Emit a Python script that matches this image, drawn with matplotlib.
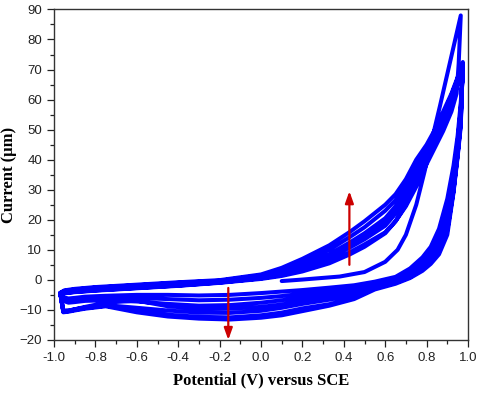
import numpy as np
import matplotlib
matplotlib.use('Agg')
import matplotlib.pyplot as plt
from matplotlib.ticker import MultipleLocator, FormatStrFormatter

# first anodic sweep, starting at 0.1 V
start_x = [0.1, 0.2, 0.38, 0.5, 0.6, 0.66, 0.7, 0.75, 0.79, 0.82, 0.865, 0.965]
start_y = [-0.4, 0.1, 1.1, 2.6, 6.0, 10.0, 15.0, 25, 36, 45, 58, 88]

# first reverse sweep from the 88 peak
rev1_x = [0.965, 0.955, 0.945, 0.92, 0.88, 0.84, 0.8, 0.75, 0.7, 0.65, 0.6, 0.5,
          0.43, 0.33, 0.2, 0.1, 0.0, -0.2, -0.4, -0.6, -0.8, -0.9, -0.95, -0.97]
rev1_y = [88, 72, 62, 56, 49.5, 44, 38.5, 31, 24.5, 19.5, 15.8, 11.8,
          9.2, 6.0, 3.2, 1.6, 0.5, -0.9, -1.9, -2.7, -3.5, -4.0, -4.4, -5.0]

# reverse sweeps (0.975 -> -0.97), cycles 2..7
rev_x = [0.975, 0.95, 0.92, 0.88, 0.84, 0.8, 0.75, 0.7, 0.65, 0.6, 0.5, 0.43,
         0.33, 0.2, 0.1, 0.0, -0.2, -0.4, -0.6, -0.8, -0.9, -0.95, -0.97]
rev_c2 = [70, 65, 59, 52, 46, 40, 32, 25, 19.5, 15.5, 11, 8.5,
          5.5, 2.8, 1.3, 0.3, -1.0, -2.0, -2.8, -3.6, -4.1, -4.5, -5.0]
rev_c3 = [70.5, 65.5, 60, 53, 47, 41.5, 34, 27.5, 22, 18, 13.5, 10.8,
          7.2, 4.0, 2.2, 0.9, -0.7, -1.6, -2.4, -3.2, -3.8, -4.2, -4.8]
rev_c4 = [71, 66, 60.5, 53.5, 47.5, 42, 35, 28.5, 23.5, 19.5, 14.5, 11.8,
          8.0, 4.6, 2.6, 1.1, -0.6, -1.4, -2.2, -3.0, -3.6, -4.1, -4.7]
rev_c5 = [71.2, 66.5, 61, 54, 48, 42.5, 36, 29.5, 24.5, 20.5, 15.5, 12.5,
          8.5, 5.0, 2.8, 1.2, -0.5, -1.3, -2.1, -2.9, -3.5, -4.0, -4.6]
rev_c6 = [71.5, 67, 61.5, 55, 49, 44, 38, 31.5, 26.5, 23, 17.5, 14.3,
          10.0, 6.0, 3.4, 1.5, -0.3, -1.0, -1.8, -2.6, -3.2, -3.7, -4.4]
rev_c7 = [72, 67.5, 62, 56, 50, 45, 40, 33.5, 28.5, 25, 19.5, 16,
          11.5, 7.0, 4.0, 1.8, -0.1, -0.8, -1.6, -2.4, -3.0, -3.5, -4.3]

# forward sweeps (-0.97 -> 0.975), cycles 1..7
fwd_x = [-0.97, -0.955, -0.93, -0.9, -0.85, -0.75, -0.6, -0.45, -0.3, -0.15, 0.0, 0.1, 0.2,
         0.33, 0.45, 0.55, 0.65, 0.72, 0.78, 0.82, 0.86, 0.9, 0.93, 0.95, 0.965, 0.975]
fwd_c1 = [-5.0, -5.8, -6.2, -6.0, -5.6, -5.3, -5.0, -5.0, -5.2, -5.0, -4.4, -3.9, -3.4,
          -2.6, -1.8, -0.6, 1.0, 3.8, 7.5, 11, 17, 27, 38, 48, 59, 70]
fwd_c2 = [-4.8, -6.3, -6.8, -6.6, -6.2, -6.0, -6.0, -6.4, -6.8, -6.6, -6.0, -5.4, -4.6,
          -3.6, -2.6, -1.2, 0.6, 3.2, 6.6, 9.8, 15, 24.5, 35.5, 46, 57, 70.5]
fwd_c3 = [-4.6, -7.0, -7.6, -7.4, -7.0, -6.8, -7.2, -8.0, -8.6, -8.4, -7.6, -6.8, -5.8,
          -4.6, -3.4, -1.6, 0.2, 2.6, 5.8, 8.8, 13.5, 22, 33.5, 44.5, 56, 71]
fwd_c4 = [-4.4, -10.2, -10.2, -9.8, -9.0, -7.6, -6.9, -8.8, -9.6, -9.6, -9.0, -8.2, -7.0,
          -5.6, -4.2, -2.0, -0.2, 2.0, 5.0, 7.8, 12, 20, 31.5, 43, 54.5, 71.2]
fwd_c5 = [-4.4, -10.4, -10.3, -9.8, -9.2, -8.4, -9.3, -10.2, -10.9, -11.0, -10.3, -9.3, -8.0,
          -6.6, -5.0, -2.4, -0.6, 1.4, 4.2, 6.8, 10.8, 18, 30, 42, 53, 71.5]
fwd_c6 = [-4.4, -10.6, -10.4, -10.0, -9.4, -8.6, -10.2, -11.6, -12.3, -12.5, -11.8, -10.9, -9.5,
          -8.1, -6.0, -2.8, -1.0, 0.9, 3.5, 6.0, 9.5, 16.5, 29.5, 41.5, 52, 72]
fwd_c7 = [-4.3, -10.8, -10.6, -10.2, -9.6, -8.8, -10.8, -12.2, -12.9, -13.2, -12.6, -11.8, -10.4,
          -8.6, -6.4, -3.2, -1.3, 0.6, 3.0, 5.3, 8.5, 15, 29, 41, 51, 72.5]

# red arrows: x, tail, head
arrow_x = [0.427, -0.158]
arrow_tail = [5.0, -2.7]
arrow_head = [29.5, -20.0]

segments = [(start_x, start_y), (rev1_x, rev1_y), (fwd_x, fwd_c1),
            (rev_x, rev_c2), (fwd_x, fwd_c2), (rev_x, rev_c3), (fwd_x, fwd_c3),
            (rev_x, rev_c4), (fwd_x, fwd_c4), (rev_x, rev_c5), (fwd_x, fwd_c5),
            (rev_x, rev_c6), (fwd_x, fwd_c6), (rev_x, rev_c7), (fwd_x, fwd_c7)]
xs = np.concatenate([s[0] for s in segments])
ys = np.concatenate([s[1] for s in segments])

fig = plt.figure(figsize=(4.8, 3.93), dpi=100)
ax = fig.add_axes([0.1125, 0.135, 0.8625, 0.841])

ax.plot(xs, ys, color='#0000ff', lw=2.9, solid_joinstyle='round', solid_capstyle='round')

for x, y0, y1 in zip(arrow_x, arrow_tail, arrow_head):
    ax.annotate('', xy=(x, y1), xytext=(x, y0),
                arrowprops=dict(arrowstyle='-|>,head_length=0.7,head_width=0.25',
                                color='#cc0000', lw=1.6, shrinkA=0, shrinkB=0))

ax.set_xlim(-1.0, 1.0)
ax.set_ylim(-20, 90)
ax.xaxis.set_major_locator(MultipleLocator(0.2))
ax.xaxis.set_minor_locator(MultipleLocator(0.1))
ax.xaxis.set_major_formatter(FormatStrFormatter('%.1f'))
ax.yaxis.set_major_locator(MultipleLocator(10))
ax.yaxis.set_minor_locator(MultipleLocator(5))
ax.tick_params(which='both', direction='out', top=False, right=False,
               labelsize=9.5, colors='#222222', width=0.9)
ax.tick_params(which='major', length=5)
ax.tick_params(which='minor', length=3.2)
for sp in ax.spines.values():
    sp.set_color('#333333')
    sp.set_linewidth(1.0)
for lab in ax.get_xticklabels() + ax.get_yticklabels():
    lab.set_family('Liberation Sans')

ax.set_xlabel('Potential (V) versus SCE', family='Liberation Serif', fontweight='bold',
              fontsize=12, labelpad=6)
ax.set_ylabel('Current (\u00b5m)', family='Liberation Serif', fontweight='bold',
              fontsize=12, labelpad=2)

fig.savefig('out.png', dpi=100)
